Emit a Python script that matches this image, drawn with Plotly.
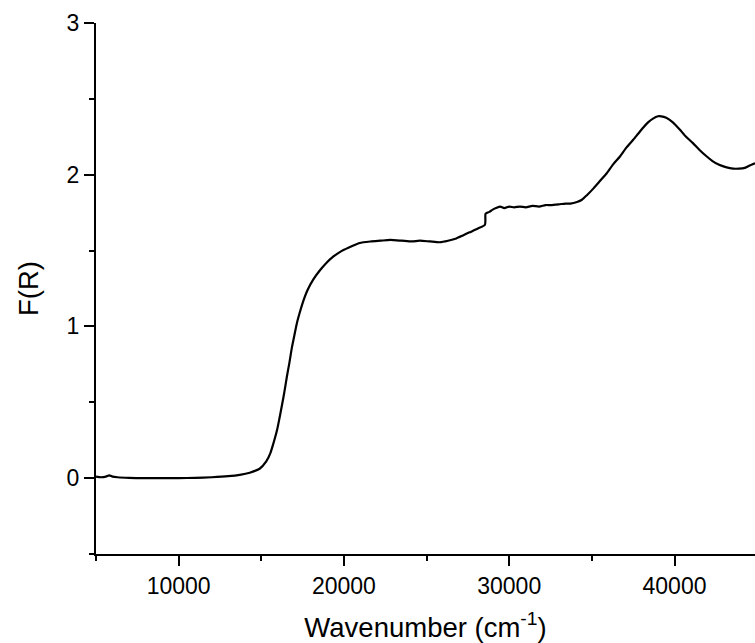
import plotly.graph_objects as go

wavenumber = [5000, 5300, 5600, 5800, 6000, 6300, 7000, 8000, 9000, 10000, 11000, 12000,
              13000, 13700, 14300, 14900, 15300, 15550, 15750, 15950, 16100, 16250, 16400,
              16550, 16700, 16850, 17000, 17150, 17350, 17550, 17800, 18150, 18550, 18950,
              19350, 19750, 20300, 20950, 21600, 22200, 22800, 23500, 24100, 24600, 25200,
              25800, 26300, 26800, 27200, 27600, 28100, 28530, 28560, 28600, 28800, 29000,
              29200, 29450, 29700, 30000, 30300, 30650, 31000, 31400, 31800, 32200, 32500,
              33000, 33400, 33700, 34100, 34400, 34700, 35100, 35500, 35900, 36300, 36700,
              37100, 37500, 37800, 38100, 38400, 38700, 39000, 39200, 39500, 39900, 40300,
              40700, 41100, 41500, 41900, 42300, 42700, 43100, 43550, 43900, 44250, 44550,
              44870]
f_r = [0.01, 0.006, 0.01, 0.018, 0.01, 0.006, 0.002, 0.0, 0.0, 0.0, 0.002, 0.006,
       0.013, 0.022, 0.036, 0.062, 0.11, 0.165, 0.235, 0.315, 0.395, 0.48, 0.57,
       0.67, 0.76, 0.86, 0.94, 1.02, 1.10, 1.17, 1.24, 1.31, 1.37, 1.42,
       1.46, 1.49, 1.52, 1.55, 1.56, 1.565, 1.57, 1.565, 1.56, 1.565, 1.56,
       1.555, 1.565, 1.58, 1.60, 1.62, 1.645, 1.67, 1.74, 1.745, 1.755, 1.77,
       1.78, 1.79, 1.78, 1.79, 1.785, 1.79, 1.785, 1.795, 1.79, 1.80, 1.80,
       1.805, 1.81, 1.81, 1.82, 1.835, 1.865, 1.91, 1.96, 2.01, 2.07, 2.12,
       2.18, 2.23, 2.27, 2.31, 2.345, 2.37, 2.385, 2.385, 2.375, 2.345, 2.30,
       2.25, 2.21, 2.165, 2.125, 2.09, 2.065, 2.05, 2.04, 2.04, 2.045, 2.06,
       2.075]

x_tickvals = [10000, 20000, 30000, 40000]
y_tickvals = [0, 1, 2, 3]

fig = go.Figure()
fig.add_trace(go.Scatter(x=wavenumber, y=f_r, mode="lines",
                         line=dict(color="black", width=2.2, shape="spline", smoothing=0.6),
                         showlegend=False, hoverinfo="skip"))

font_family = "Liberation Sans, Arial, sans-serif"
fig.update_layout(
    width=755, height=643,
    margin=dict(l=96, r=0, t=23, b=89),
    paper_bgcolor="white", plot_bgcolor="white",
    font=dict(family=font_family, color="black"),
)
fig.update_xaxes(
    range=[5000, 44870], showgrid=False, zeroline=False,
    showline=True, linecolor="black", linewidth=2,
    ticks="outside", ticklen=10, tickwidth=2, tickcolor="black",
    tickvals=x_tickvals, ticktext=[str(v) for v in x_tickvals],
    tickfont=dict(size=23),
    minor=dict(ticks="outside", ticklen=5, tickwidth=2, tickcolor="black",
               tickvals=[5000, 15000, 25000, 35000], showgrid=False),
    title=dict(text="Wavenumber (cm<sup>-1</sup>)", font=dict(size=27.5), standoff=20),
)
fig.update_yaxes(
    range=[-0.5, 3], showgrid=False, zeroline=False,
    showline=True, linecolor="black", linewidth=2,
    ticks="outside", ticklen=10, tickwidth=2, tickcolor="black",
    tickvals=y_tickvals, ticktext=[str(v) for v in y_tickvals],
    tickfont=dict(size=23),
    minor=dict(ticks="outside", ticklen=5, tickwidth=2, tickcolor="black",
               tickvals=[-0.5, 0.5, 1.5, 2.5], showgrid=False),
    title=dict(text="F(R)", font=dict(size=27.5), standoff=20),
)

fig.write_html("out.html")
